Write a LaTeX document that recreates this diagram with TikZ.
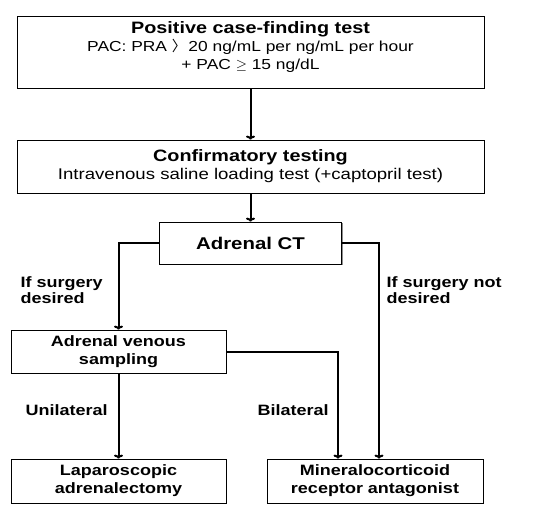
\documentclass[tikz,border=0pt]{standalone}
\usepackage{fontspec}
\setmainfont{Liberation Sans}[FakeStretch=1.2]
\newfontfamily\cjk{Noto Sans CJK KR}
\usetikzlibrary{arrows.meta, shadows}

\begin{document}
\begin{tikzpicture}[x=1pt, y=-1pt,
    box/.style={draw, fill=white, line width=0.8pt, inner sep=0pt, align=center,
        font=\fontsize{15}{18}\selectfont\bfseries,
        drop shadow={shadow xshift=1.2pt, shadow yshift=-1.2pt, fill=black!45, opacity=1}},
    arr/.style={line width=2pt, -{To[length=4pt, width=9pt]}},
    lbl/.style={font=\fontsize{15}{16.5}\selectfont\bfseries, align=left, anchor=west}]
    \useasboundingbox (0, 0) rectangle (550, 515);
    \node[box, minimum width=467, minimum height=72] (pos) at (250.5, 52)
        {\fontsize{16.5}{17}\selectfont\bfseries Positive case-finding test\\
         \fontsize{14.5}{16.5}\selectfont\mdseries PAC: PRA {\cjk 〉}\hspace{2pt}20 ng/mL per ng/mL per hour\\
         \fontsize{14.5}{16.5}\selectfont\mdseries + PAC $\geq$ 15 ng/dL\\[-6pt] \mbox{}};
    \node[box, minimum width=467, minimum height=53] (conf) at (250.5, 166.5)
        {\fontsize{16.5}{20}\selectfont\bfseries Confirmatory testing\\
         \fontsize{15.5}{20}\selectfont\mdseries Intravenous saline loading test (+captopril test)};
    \node[box, minimum width=182, minimum height=42, font=\fontsize{17}{20}\selectfont\bfseries]
        (ct) at (250.5, 243) {Adrenal CT};
    \node[box, minimum width=215, minimum height=43] (avs) at (118.5, 351.5)
        {Adrenal venous\\ sampling};
    \node[box, minimum width=215, minimum height=44] (lap) at (118.5, 481)
        {Laparoscopic\\ adrenalectomy};
    \node[box, minimum width=216, minimum height=44] (mra) at (375, 481)
        {Mineralocorticoid\\ receptor antagonist};
    \node[lbl] (yes) at (17, 290) {If surgery\\ desired};
    \node[lbl] (no) at (383, 290) {If surgery not\\ desired};
    \node[lbl] (uni) at (22, 410) {Unilateral};
    \node[lbl] (bi) at (254, 410) {Bilateral};
    \draw[arr] (pos) -- (conf);
    \draw[arr] (conf) -- (ct);
    \draw[arr] (ct.west) -| (avs.north);
    \draw[arr] (ct.east) -| ([xshift=4pt]mra.north);
    \draw[arr] (avs.east) -| ([xshift=-37pt]mra.north);
    \draw[arr] (avs) -- (lap);
\end{tikzpicture}
\end{document}
